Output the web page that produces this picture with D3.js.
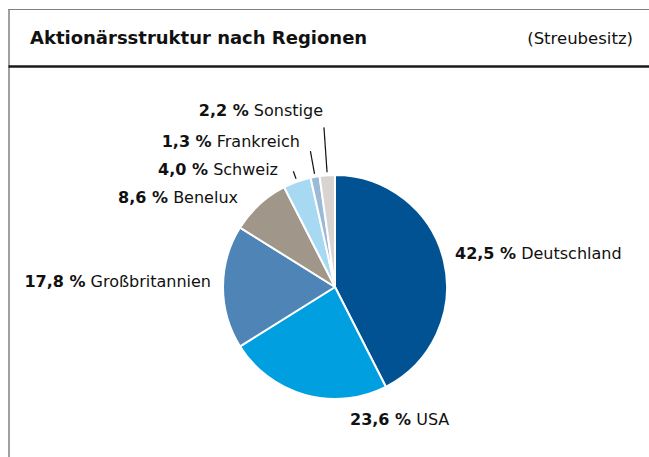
<!DOCTYPE html>
<html>
<head>
<meta charset="utf-8">
<script src="https://cdn.jsdelivr.net/npm/d3@7"></script>
<style>
  body { margin: 0; background: #fff; }
  svg { display: block; font-family: "DejaVu Sans", sans-serif; }
</style>
</head>
<body>
<div id="chart"></div>
<script>
// Daten: Aktionärsstruktur nach Regionen (Streubesitz), Angaben in %
var regions = ["Deutschland", "USA", "Großbritannien", "Benelux", "Schweiz", "Frankreich", "Sonstige"];
var shares  = [42.5, 23.6, 17.8, 8.6, 4.0, 1.3, 2.2];
var colors  = ["#005293", "#009fe0", "#4e85b6", "#a1968a", "#a8d9f2", "#9bbad6", "#d9d4d1"];

// Label-Layout relativ zum Kreismittelpunkt
var labelLayout = [
  {dx: 120, dy: -28, anchor: "start"},
  {dx: 15,  dy: 138, anchor: "start"},
  {dx: -124, dy: 0,  anchor: "end"},
  {dx: -97, dy: -84, anchor: "end"},
  {dx: -57, dy: -112, anchor: "end"},
  {dx: -35, dy: -140, anchor: "end"},
  {dx: -12, dy: -171, anchor: "end"}
];
// Länge der Hinweislinien (0 = keine)
var leaderOuter = [0, 0, 0, 0, 123, 138, 160];

var width = 649, height = 457,
    cx = 335, cy = 287, r = 112;

var svg = d3.select("#chart").append("svg")
  .attr("width", width)
  .attr("height", height);

// Rahmen
svg.append("line").attr("x1", 8.5).attr("x2", width).attr("y1", 9.5).attr("y2", 9.5)
  .style("stroke", "#808080").style("stroke-width", 1);
svg.append("line").attr("x1", 9).attr("x2", 9).attr("y1", 9).attr("y2", height)
  .style("stroke", "#808080").style("stroke-width", 1.5);
svg.append("line").attr("x1", 8.5).attr("x2", width).attr("y1", 66.5).attr("y2", 66.5)
  .style("stroke", "#1a1a1a").style("stroke-width", 2.5);

svg.append("text")
  .attr("x", 30).attr("y", 44)
  .style("font-size", "18px").style("font-weight", "bold").style("fill", "#111")
  .text("Aktionärsstruktur nach Regionen");

svg.append("text")
  .attr("x", 633).attr("y", 44)
  .attr("text-anchor", "end")
  .style("font-size", "16.5px").style("fill", "#111")
  .text("(Streubesitz)");

var data = regions.map(function(d, i) {
  return {name: d, value: shares[i], color: colors[i], i: i};
});

var pie = d3.pie()
  .sort(null)
  .value(function(d) { return d.value; });

var arc = d3.arc()
  .innerRadius(0)
  .outerRadius(r);

var g = svg.append("g")
  .attr("transform", "translate(" + cx + "," + cy + ")");

var arcs = pie(data);

g.selectAll("path")
  .data(arcs)
  .enter()
  .append("path")
  .attr("d", arc)
  .style("fill", function(d) { return d.data.color; })
  .style("stroke", "#fff")
  .style("stroke-width", 2)
  .style("stroke-linejoin", "round");

// Hinweislinien für kleine Segmente
g.selectAll("line.leader")
  .data(arcs.filter(function(d) { return leaderOuter[d.data.i] > 0; }))
  .enter()
  .append("line")
  .attr("class", "leader")
  .each(function(d) {
    var a = (d.startAngle + d.endAngle) / 2,
        r0 = r + 3, r1 = leaderOuter[d.data.i];
    d3.select(this)
      .attr("x1", Math.sin(a) * r0).attr("y1", -Math.cos(a) * r0)
      .attr("x2", Math.sin(a) * r1).attr("y2", -Math.cos(a) * r1);
  })
  .style("stroke", "#111")
  .style("stroke-width", 1.2);

var fmt = function(v) { return d3.format(".1f")(v).replace(".", ","); };

var labels = g.selectAll("text.label")
  .data(arcs)
  .enter()
  .append("text")
  .attr("class", "label")
  .attr("x", function(d) { return labelLayout[d.data.i].dx; })
  .attr("y", function(d) { return labelLayout[d.data.i].dy; })
  .attr("text-anchor", function(d) { return labelLayout[d.data.i].anchor; })
  .style("font-size", "16px")
  .style("fill", "#111");

labels.append("tspan")
  .style("font-weight", "bold")
  .text(function(d) { return fmt(d.data.value) + "\u00a0%"; });
labels.append("tspan")
  .text(function(d) { return " " + d.data.name; });
</script>
</body>
</html>
